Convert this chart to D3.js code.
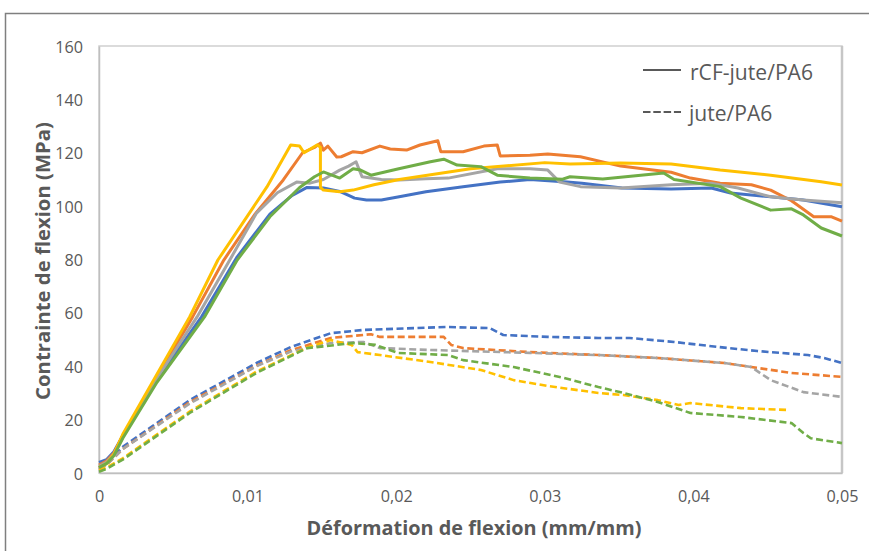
<!DOCTYPE html>
<html><head><meta charset="utf-8">
<script src="https://cdn.jsdelivr.net/npm/d3@7"></script>
<style>html,body{margin:0;padding:0;background:#fff;}svg{display:block;}</style>
</head><body>
<svg id="c" width="869" height="551"></svg>
<script>
// ---- data ----
const xTicks = [0, 0.01, 0.02, 0.03, 0.04, 0.05];
const xTickLabels = ["0", "0,01", "0,02", "0,03", "0,04", "0,05"];
const yTicks = [0, 20, 40, 60, 80, 100, 120, 140, 160];
const seriesNames = ["Blue", "Orange", "Gray", "Yellow", "Green"];
const seriesColors = ["#4472C4", "#ED7D31", "#A5A5A5", "#FFC000", "#70AD47"];
const legendLabels = ["rCF-jute/PA6", "jute/PA6"];
const xTitle = "Déformation de flexion (mm/mm)";
const yTitle = "Contrainte de flexion (MPa)";

// rCF-jute/PA6 (solid)
const solidBlue = [[0,4],[0.0005,5],[0.001,8],[0.0016,14],[0.0039,35],[0.0069,58.5],[0.0093,81],[0.0115,97],[0.013,104],[0.014,107],[0.0151,106.8],[0.0162,105.5],[0.0168,104],[0.0172,103],[0.018,102.3],[0.019,102.3],[0.0202,103.5],[0.022,105.4],[0.0245,107.3],[0.027,109],[0.029,110],[0.0315,109],[0.0325,108.6],[0.0352,106.8],[0.0385,106.4],[0.0412,106.8],[0.0425,104.9],[0.0452,103.5],[0.0474,102.3],[0.05,99.8]];
const solidOrange = [[0,3],[0.0005,4.5],[0.001,7.5],[0.0016,14],[0.0039,36],[0.0063,58.5],[0.0084,79.8],[0.0105,97],[0.0124,109.8],[0.0137,120],[0.0145,122],[0.0149,123.6],[0.0151,121],[0.0154,122.5],[0.016,118.4],[0.0163,118.5],[0.0171,120.4],[0.0177,120],[0.0189,122.5],[0.0196,121.4],[0.0207,121],[0.0216,122.9],[0.0228,124.5],[0.023,120.4],[0.0245,120.4],[0.0259,122.5],[0.0268,122.9],[0.027,118.8],[0.029,119.1],[0.0302,119.5],[0.0324,118.5],[0.0351,115],[0.0385,112.7],[0.0398,110.5],[0.0418,108.6],[0.0439,108],[0.0452,106],[0.0466,102],[0.0481,96],[0.0493,96],[0.05,94.4]];
const solidGray = [[0,2.5],[0.0005,4],[0.001,7],[0.0016,13.5],[0.0039,35.5],[0.0066,58.5],[0.0088,79.8],[0.0106,97.4],[0.012,105],[0.0133,109],[0.0142,108.6],[0.0151,110],[0.0162,113.5],[0.0168,115],[0.0173,116.6],[0.0177,111],[0.019,110],[0.0202,109.8],[0.022,110.3],[0.0235,110.5],[0.0268,114],[0.029,114],[0.0302,113.5],[0.031,109],[0.0324,107.3],[0.0351,106.8],[0.0385,108],[0.0412,108.6],[0.043,106.8],[0.0452,103.5],[0.0474,102.3],[0.05,101.3]];
const solidYellow = [[0,2],[0.0005,3.5],[0.001,7],[0.0016,14.5],[0.0039,37],[0.0061,58.5],[0.008,79.8],[0.0113,107.2],[0.0129,122.9],[0.0135,122.5],[0.0138,120],[0.0147,123],[0.0149,122],[0.0149,107],[0.0151,106],[0.0162,105.4],[0.0171,106],[0.0185,108],[0.0202,110],[0.025,114],[0.03,116.3],[0.0317,115.8],[0.0351,116.2],[0.0385,115.8],[0.0418,113.5],[0.0452,111.6],[0.0486,109.1],[0.05,107.9]];
const solidGreen = [[0,2],[0.0005,3.5],[0.001,6.5],[0.0016,13],[0.0039,34],[0.0071,58.5],[0.0093,79.8],[0.0115,96],[0.0135,107],[0.0145,111],[0.0151,112.8],[0.0162,110.5],[0.0171,114],[0.0176,113.5],[0.0183,111.6],[0.0201,113.9],[0.0223,116.6],[0.0232,117.6],[0.0241,115.4],[0.0257,114.8],[0.0268,111.6],[0.029,110.5],[0.0312,110.1],[0.0317,111],[0.0339,110.2],[0.038,112.4],[0.0387,110],[0.0418,107.3],[0.0432,103],[0.0452,98.5],[0.0466,99],[0.0474,96.7],[0.0486,91.8],[0.05,88.8]];

// jute/PA6 (dashed)
const dashBlue = [[0,2],[0.0005,3.5],[0.0016,9.8],[0.0061,27.3],[0.0106,41.2],[0.0129,47.2],[0.0156,52.4],[0.0178,53.6],[0.0212,54.3],[0.0234,54.7],[0.0263,54.3],[0.0272,51.7],[0.0302,51],[0.0336,50.6],[0.0357,50.6],[0.0387,49.1],[0.0417,47.2],[0.0443,45.7],[0.0477,44.2],[0.0488,43.1],[0.05,41.2]];
const dashOrange = [[0,1.5],[0.0005,3],[0.0016,9],[0.0061,26.5],[0.0106,40.2],[0.0129,46],[0.0156,50.6],[0.0183,52],[0.0189,51],[0.0232,51],[0.0237,48],[0.0245,46.8],[0.029,45.3],[0.0336,44.2],[0.0376,43.1],[0.0421,41.2],[0.0439,39.7],[0.0466,37.5],[0.05,36]];
const dashGray = [[0,1.5],[0.0005,3],[0.0016,9],[0.0061,26],[0.0106,40],[0.0129,45.5],[0.0156,48.7],[0.0178,49.1],[0.0189,46.8],[0.0223,46.1],[0.029,45],[0.0336,44.2],[0.0376,43.1],[0.0421,41.2],[0.0439,39.7],[0.0452,34.8],[0.0474,30.3],[0.05,28.5]];
const dashYellow = [[0,1],[0.0005,2],[0.0016,5.5],[0.0061,23],[0.0106,38],[0.014,47],[0.0156,49.8],[0.017,48],[0.0174,45.3],[0.0189,44.2],[0.0223,41.6],[0.0257,38.6],[0.0279,34.8],[0.0302,32.6],[0.0336,30],[0.0353,29.2],[0.0376,27.3],[0.039,25.5],[0.0398,26.2],[0.0432,24.3],[0.0464,23.6]];
const dashGreen = [[0,0.5],[0.0005,1.5],[0.0016,5],[0.0061,22.5],[0.0106,37.5],[0.014,46.8],[0.016,48],[0.0171,48.7],[0.0186,48],[0.0201,45],[0.0235,44.2],[0.0245,42.3],[0.0279,39.7],[0.0313,35.6],[0.0336,32.2],[0.0353,30],[0.0376,26.6],[0.0398,22.5],[0.0432,21],[0.0466,18.7],[0.0474,15],[0.0479,13],[0.05,11.2]];

const solidSeries = [solidBlue, solidOrange, solidGray, solidYellow, solidGreen];
const dashedSeries = [dashBlue, dashOrange, dashGray, dashYellow, dashGreen];

// ---- drawing ----
const svg = d3.select("#c");
const FONT = "'Open Sans', 'DejaVu Sans', sans-serif";
const TXT = "#595959";
const L = 99, R = 842, T = 46, B = 473;
const x = d3.scaleLinear().domain([0, 0.05]).range([L, R]);
const y = d3.scaleLinear().domain([0, 160]).range([B, T]);

// outer chart frame
svg.append("rect").attr("x", 5.5).attr("y", 13.5).attr("width", 900).attr("height", 600)
  .attr("fill", "#fff").attr("stroke", "#7f7f7f").attr("stroke-width", 1.5);

// plot area border
svg.append("rect").attr("x", L).attr("y", T).attr("width", R - L).attr("height", B - T)
  .attr("fill", "none").attr("stroke", "#d0d0d0").attr("stroke-width", 1.5);
svg.append("line").attr("x1", R).attr("x2", R).attr("y1", T).attr("y2", B)
  .attr("stroke", "#c6c6c6").attr("stroke-width", 2.5);

function fit(sel, target) {
  const w = sel.node().getComputedTextLength();
  const fs = parseFloat(sel.attr("font-size"));
  const nfs = fs * target / w;
  sel.attr("font-size", nfs);
  return nfs;
}

// axes
const xAxis = d3.axisBottom(x).tickValues(xTicks).tickFormat((d, i) => xTickLabels[i]).tickSize(0).tickPadding(0);
const gx = svg.append("g").attr("transform", `translate(0,${B})`).call(xAxis);
gx.select(".domain").attr("stroke", "#bfbfbf").attr("stroke-width", 1.5);
gx.selectAll("text").attr("font-family", FONT).attr("fill", TXT).attr("font-size", 16)
  .attr("dy", null).attr("y", 23).attr("dominant-baseline", "central");
const refTick = gx.selectAll("text").filter((d, i) => i === 2);
const tickFs = fit(refTick, 32);
gx.selectAll("text").attr("font-size", tickFs);

const yAxis = d3.axisLeft(y).tickValues(yTicks).tickSize(0).tickPadding(0).tickFormat(d3.format("d"));
const gy = svg.append("g").attr("transform", `translate(${L},0)`).call(yAxis);
gy.select(".domain").attr("stroke", "#bfbfbf").attr("stroke-width", 1.5);
gy.selectAll("text").attr("font-family", FONT).attr("fill", TXT).attr("font-size", tickFs)
  .attr("dy", null).attr("x", -16).attr("dominant-baseline", "central").attr("text-anchor", "end");

// lines
const line = d3.line().x(d => x(d[0])).y(d => y(d[1]));
const lg = svg.append("g");
dashedSeries.forEach((s, i) => {
  lg.append("path").datum(s).attr("d", line).attr("fill", "none")
    .attr("stroke", seriesColors[i]).attr("stroke-width", 2.6)
    .attr("stroke-dasharray", "7,3.5").attr("stroke-linejoin", "round");
});
solidSeries.forEach((s, i) => {
  lg.append("path").datum(s).attr("d", line).attr("fill", "none")
    .attr("stroke", seriesColors[i]).attr("stroke-width", 3)
    .attr("stroke-linejoin", "round");
});

// axis titles
const xt = svg.append("text").attr("x", 474).attr("y", 527).attr("text-anchor", "middle")
  .attr("dominant-baseline", "central").attr("font-family", FONT).attr("font-weight", "bold")
  .attr("font-size", 20).attr("fill", TXT).text(xTitle);
fit(xt, 335);
const yt = svg.append("text").attr("transform", "translate(42,261) rotate(-90)").attr("text-anchor", "middle")
  .attr("dominant-baseline", "central").attr("font-family", FONT).attr("font-weight", "bold")
  .attr("font-size", 18).attr("fill", TXT).text(yTitle);
fit(yt, 278);

// legend
const leg = svg.append("g");
leg.append("line").attr("x1", 643).attr("x2", 681).attr("y1", 70).attr("y2", 70)
  .attr("stroke", TXT).attr("stroke-width", 2);
const l1 = leg.append("text").attr("x", 690).attr("y", 71).attr("dominant-baseline", "central")
  .attr("font-family", FONT).attr("font-size", 18).attr("fill", TXT).text(legendLabels[0]);
const legFs = fit(l1, 123);
leg.append("line").attr("x1", 643).attr("x2", 681).attr("y1", 112).attr("y2", 112)
  .attr("stroke", TXT).attr("stroke-width", 2).attr("stroke-dasharray", "7.5,2.8");
leg.append("text").attr("x", 689).attr("y", 112).attr("dominant-baseline", "central")
  .attr("font-family", FONT).attr("font-size", legFs).attr("fill", TXT).text(legendLabels[1]);
</script>
</body></html>
